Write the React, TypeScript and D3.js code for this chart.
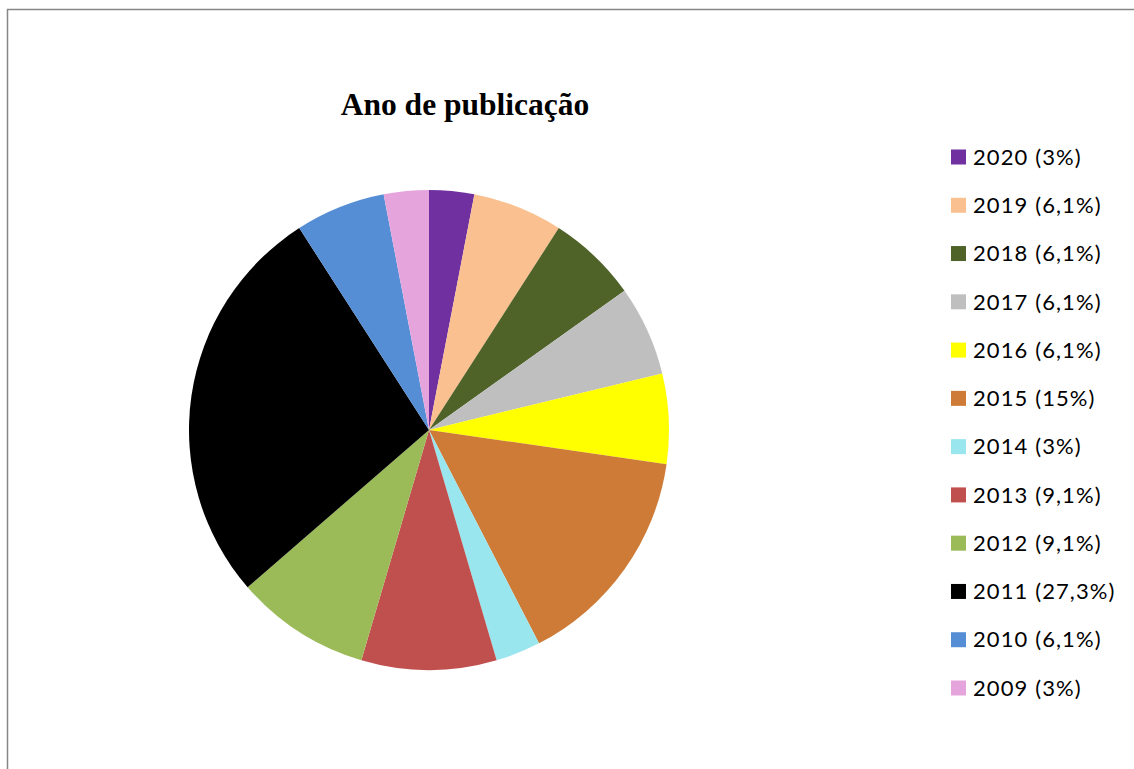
import React from "react";
import * as d3 from "d3";

const years = ["2020", "2019", "2018", "2017", "2016", "2015", "2014", "2013", "2012", "2011", "2010", "2009"];
const counts = [1, 2, 2, 2, 2, 5, 1, 3, 3, 9, 2, 1];
const labels = ["3%", "6,1%", "6,1%", "6,1%", "6,1%", "15%", "3%", "9,1%", "9,1%", "27,3%", "6,1%", "3%"];
const colors = ["#7030A0", "#FAC090", "#4F6228", "#BFBFBF", "#FFFF00", "#CD7B37", "#9AE6EE", "#C0504D", "#9BBB59", "#000000", "#558ED5", "#E5A5DC"];

const W = 1134;
const H = 769;

export default function App() {
  const cx = 429;
  const cy = 430;
  const r = 240;
  const pie = d3.pie<number>().sort(null).value((d) => d);
  const arcs = pie(counts);
  const arc = d3.arc<d3.PieArcDatum<number>>().innerRadius(0).outerRadius(r);
  const legendY = d3.scalePoint<string>().domain(years).range([157, 688]);

  return (
    <svg width={W} height={H} style={{ position: "absolute", left: 0, top: 0, background: "#fff" }}>
      <rect x={7.5} y={9.5} width={W + 20} height={H + 20} fill="#fff" stroke="#868686" strokeWidth={1.5} />
      <text x={465} y={115} textAnchor="middle" fontFamily="'Liberation Serif', 'Times New Roman', serif" fontWeight="bold" fontSize={31.5} fill="#000">
        Ano de publicação
      </text>
      <g transform={`translate(${cx},${cy})`}>
        {arcs.map((a, i) => (
          <path key={years[i]} d={arc(a) || ""} fill={colors[i]} />
        ))}
      </g>
      {years.map((y, i) => (
        <g key={y} transform={`translate(951,${legendY(y)})`}>
          <rect x={0} y={-7.5} width={15} height={15} fill={colors[i]} />
          <text x={22} y={0} dy="0.35em" fontFamily="Lato, 'Open Sans', sans-serif" fontSize={22} letterSpacing={1.1} fill="#000">
            {`${y} (${labels[i]})`}
          </text>
        </g>
      ))}
    </svg>
  );
}
